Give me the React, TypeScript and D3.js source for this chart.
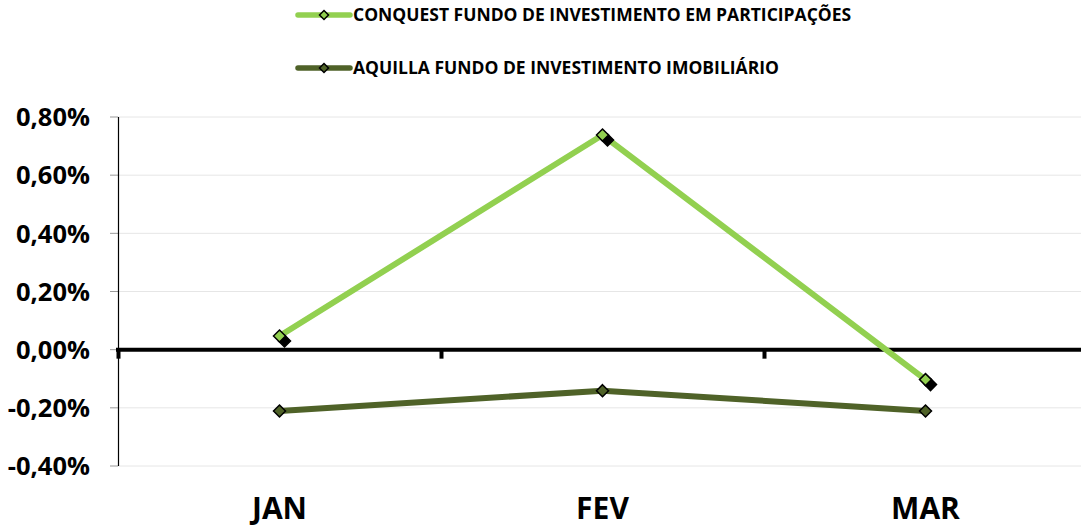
import React from 'react';
import * as d3 from 'd3';

const months = ['JAN', 'FEV', 'MAR'];
const conquest = [0.047, 0.738, -0.103];
const aquilla = [-0.211, -0.141, -0.211];
const yTicks = [-0.4, -0.2, 0, 0.2, 0.4, 0.6, 0.8];
const seriesNames = [
  'CONQUEST FUNDO DE INVESTIMENTO EM PARTICIPAÇÕES',
  'AQUILLA FUNDO DE INVESTIMENTO IMOBILIÁRIO',
];
const colors = ['#92D050', '#4F6228'];

const W = 1081;
const H = 527;
const font = '"Open Sans", Lato, sans-serif';

const fmt = (v: number) => (v < 0 ? '-' : '') + Math.abs(v).toFixed(2).replace('.', ',') + '%';

const Diamond = ({ x, y, fill, s = 6 }: { x: number; y: number; fill: string; s?: number }) => (
  <path
    d={`M${x},${y - s}L${x + s},${y}L${x},${y + s}L${x - s},${y}Z`}
    fill={fill}
    stroke="#000"
    strokeWidth={1.5}
  />
);

export default function App() {
  const x = d3.scaleBand<string>().domain(months).range([118, 1087]);
  const y = d3.scaleLinear().domain([-0.4, 0.8]).range([466, 117]);
  const cx = (m: string) => (x(m) ?? 0) + x.bandwidth() / 2;
  const line = d3
    .line<number>()
    .x((_, i) => cx(months[i]))
    .y((d) => y(d));
  const series = [conquest, aquilla];

  return (
    <svg width={W} height={H} style={{ position: 'absolute', left: 0, top: 0 }}>
      <rect width={W} height={H} fill="#fff" />
      {/* grid */}
      {yTicks.map((t) => (
        <g key={t}>
          <line x1={118} x2={W} y1={y(t)} y2={y(t)} stroke="#e6e6e6" strokeWidth={1} />
          <line x1={110} x2={118} y1={y(t)} y2={y(t)} stroke="#999" strokeWidth={1} />
          <text
            x={90}
            y={y(t)}
            dy="0.36em"
            textAnchor="end"
            fontFamily={font}
            fontWeight={700}
            fontSize={25.5}
            fill="#000"
          >
            {fmt(t)}
          </text>
        </g>
      ))}
      <line x1={118.5} x2={118.5} y1={117} y2={466} stroke="#000" strokeWidth={1.2} />
      {/* zero line and ticks */}
      <line x1={116} x2={W} y1={y(0)} y2={y(0)} stroke="#000" strokeWidth={4} />
      {months.map((m) => (
        <line
          key={m}
          x1={(x(m) ?? 0) + 0.5}
          x2={(x(m) ?? 0) + 0.5}
          y1={y(0)}
          y2={y(0) + 9}
          stroke="#000"
          strokeWidth={4}
        />
      ))}
      {/* series */}
      {series.map((s, si) => (
        <g key={si}>
          <path d={line(s) ?? ''} fill="none" stroke={colors[si]} strokeWidth={6} />
          {s.map((v, i) =>
            si === 0 ? (
              <g key={i}>
                <Diamond x={cx(months[i]) + 5} y={y(v) + 5} fill="#000" />
                <Diamond x={cx(months[i])} y={y(v)} fill={colors[si]} />
              </g>
            ) : (
              <Diamond key={i} x={cx(months[i])} y={y(v)} fill={colors[si]} />
            )
          )}
        </g>
      ))}
      {/* x labels */}
      {months.map((m) => (
        <text
          key={m}
          x={cx(m)}
          y={519}
          textAnchor="middle"
          fontFamily={font}
          fontWeight={700}
          fontSize={30}
          fill="#000"
        >
          {m}
        </text>
      ))}
      {/* legend */}
      {seriesNames.map((n, i) => {
        const ly = 15 + i * 53;
        return (
          <g key={n}>
            <line x1={298} x2={350} y1={ly} y2={ly} stroke={colors[i]} strokeWidth={5.5} strokeLinecap="round" />
            <Diamond x={324} y={ly} fill={colors[i]} s={4.5} />
            <text x={353} y={ly} dy="0.36em" fontFamily={font} fontWeight={700} fontSize={17.5} fill="#000">
              {n}
            </text>
          </g>
        );
      })}
    </svg>
  );
}
